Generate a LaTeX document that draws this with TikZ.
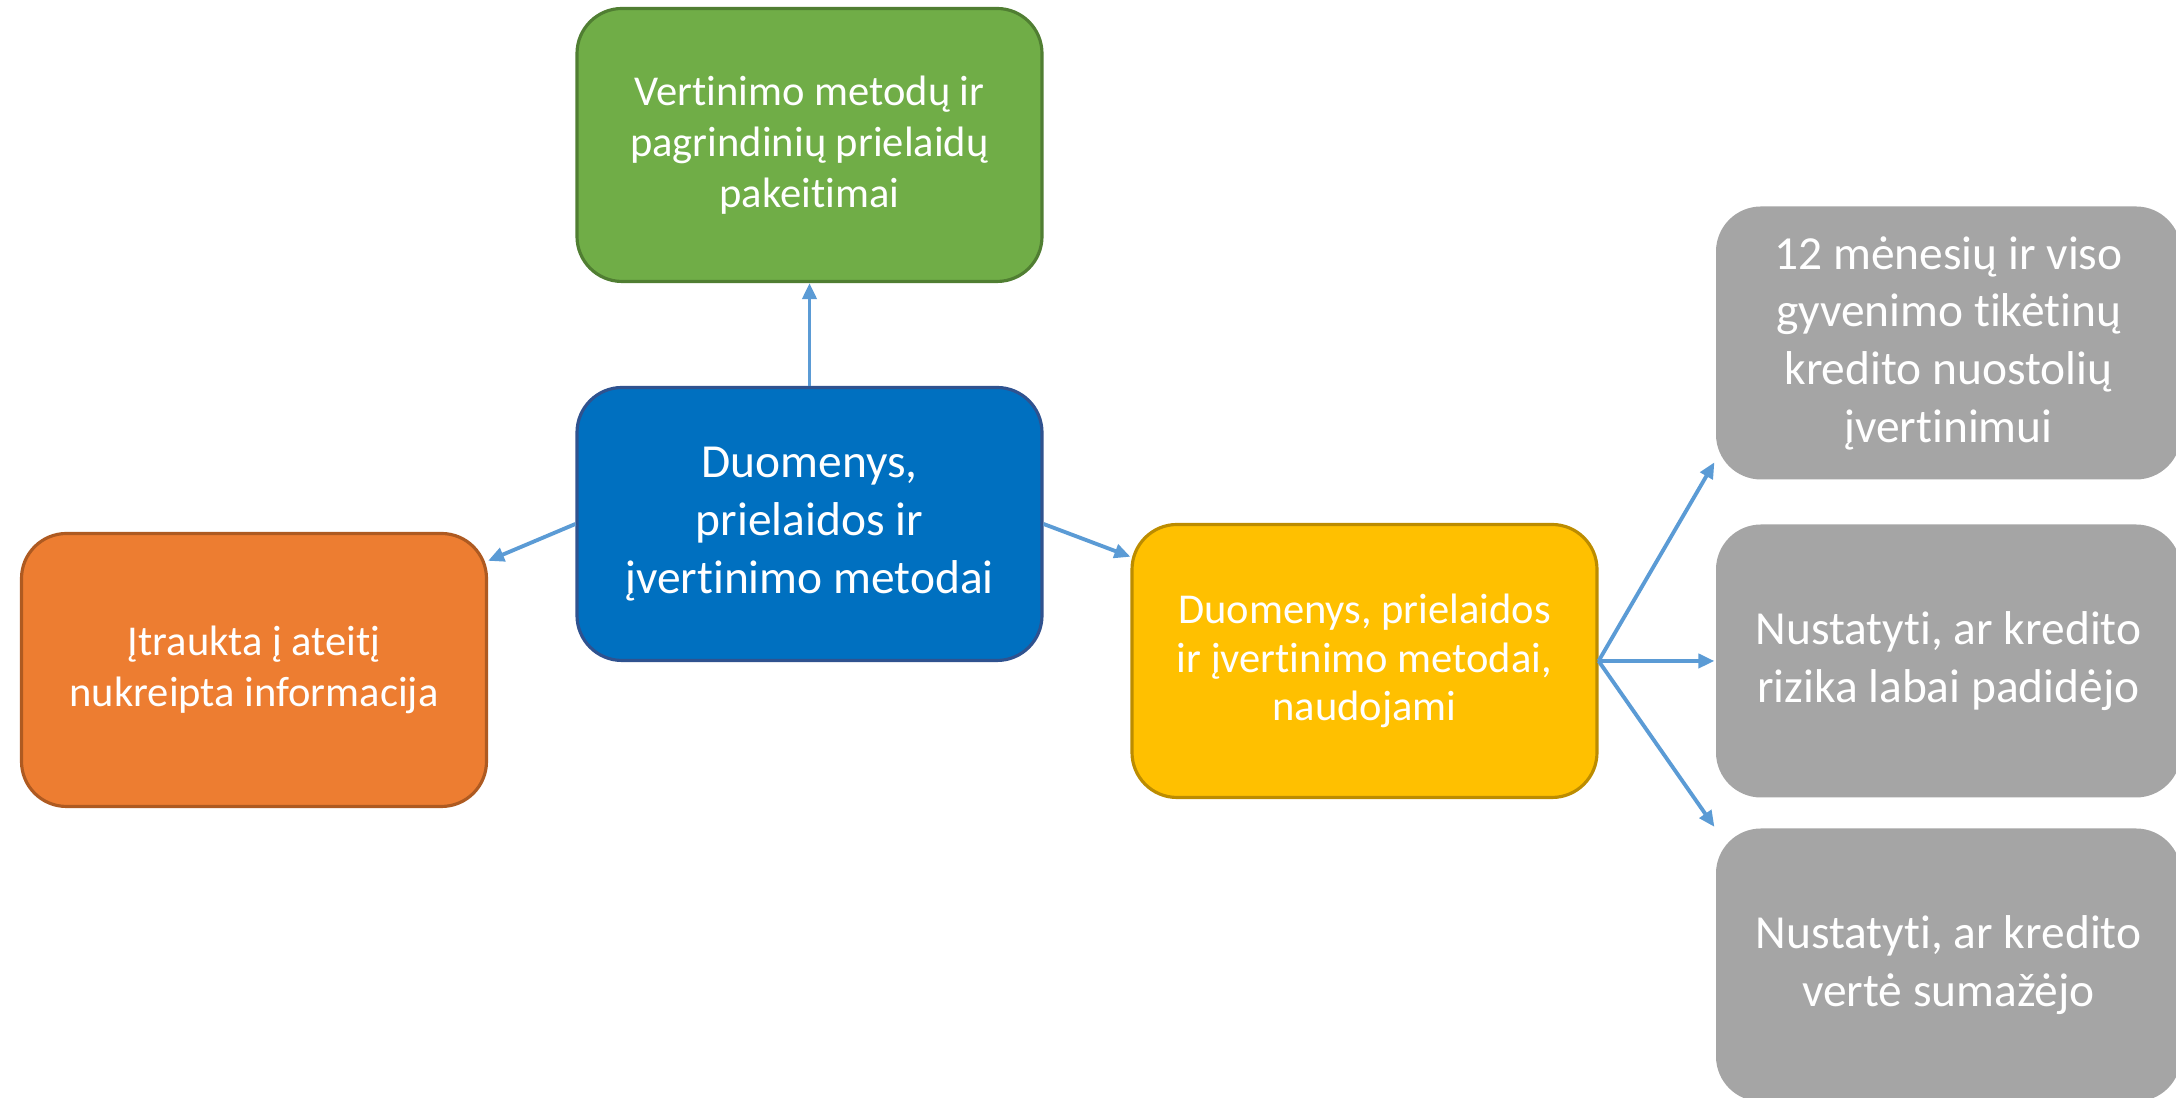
\documentclass[tikz,border=0pt]{standalone}
\usepackage{fontspec}
\setmainfont{Carlito}[Ligatures=NoCommon]
\usepackage{tikz}
\usetikzlibrary{arrows.meta}
\usepackage{xcolor}

\definecolor{bGreen}{HTML}{70AD47}
\definecolor{bGreenLine}{HTML}{507E32}
\definecolor{bBlue}{HTML}{0070C0}
\definecolor{bBlueLine}{HTML}{2F528F}
\definecolor{bOrange}{HTML}{ED7D31}
\definecolor{bOrangeLine}{HTML}{AE5A21}
\definecolor{bYellow}{HTML}{FFC000}
\definecolor{bYellowLine}{HTML}{BC8C00}
\definecolor{bGray}{HTML}{A5A5A5}
\definecolor{arrBlue}{HTML}{5B9BD5}

\begin{document}
\begin{tikzpicture}
\tikzset{
  box/.style={rounded corners=4.5mm,line width=0.9pt,minimum width=46.5mm,minimum height=27.3mm,align=center,text=white,inner sep=2pt},
  fbig/.style={font=\fontsize{13.5}{16.4}\selectfont},
  fmid/.style={font=\fontsize{12.1}{14.5}\selectfont},
  fsmall/.style={font=\fontsize{12.1}{13.8}\selectfont},
  arr/.style={-{Triangle[length=1.6mm,width=1.4mm]},line width=1.1pt,draw=arrBlue}
}
\useasboundingbox (0,0) rectangle (21.76,10.98);

% centre and its branches
\node[box,fbig,fill=bBlue,draw=bBlueLine] (duom) at (8.095,5.74) {Duomenys,\\prielaidos ir\\įvertinimo metodai};
\node[box,fmid,fill=bGreen,draw=bGreenLine] (keit) at (8.095,9.53) {Vertinimo metodų ir\\pagrindinių prielaidų\\pakeitimai};
\node[box,fmid,fill=bOrange,draw=bOrangeLine] (ateit) at (2.54,4.28) {Įtraukta į ateitį\\nukreipta informacija};
\node[box,fsmall,fill=bYellow,draw=bYellowLine] (naud) at (13.645,4.37) {Duomenys, prielaidos\\ir įvertinimo metodai,\\naudojami};

% uses
\node[box,fbig,fill=bGray] (ecl) at (19.485,7.55) {12 mėnesių ir viso\\gyvenimo tikėtinų\\kredito nuostolių\\įvertinimui};
\node[box,fbig,fill=bGray] (rizika) at (19.485,4.37) {Nustatyti, ar kredito\\rizika labai padidėjo};
\node[box,fbig,fill=bGray] (verte) at (19.485,1.33) {Nustatyti, ar kredito\\vertė sumažėjo};

\draw[arr] (duom.north) -- (keit.south);
\draw[arr] (duom.west) -- (ateit.25);
\draw[arr] (duom.east) -- (naud.156.6);
\draw[arr] (naud.east) -- (ecl.207.7);
\draw[arr] (naud.east) -- (rizika.west);
\draw[arr] (naud.east) -- (verte.north west);
\end{tikzpicture}
\end{document}
